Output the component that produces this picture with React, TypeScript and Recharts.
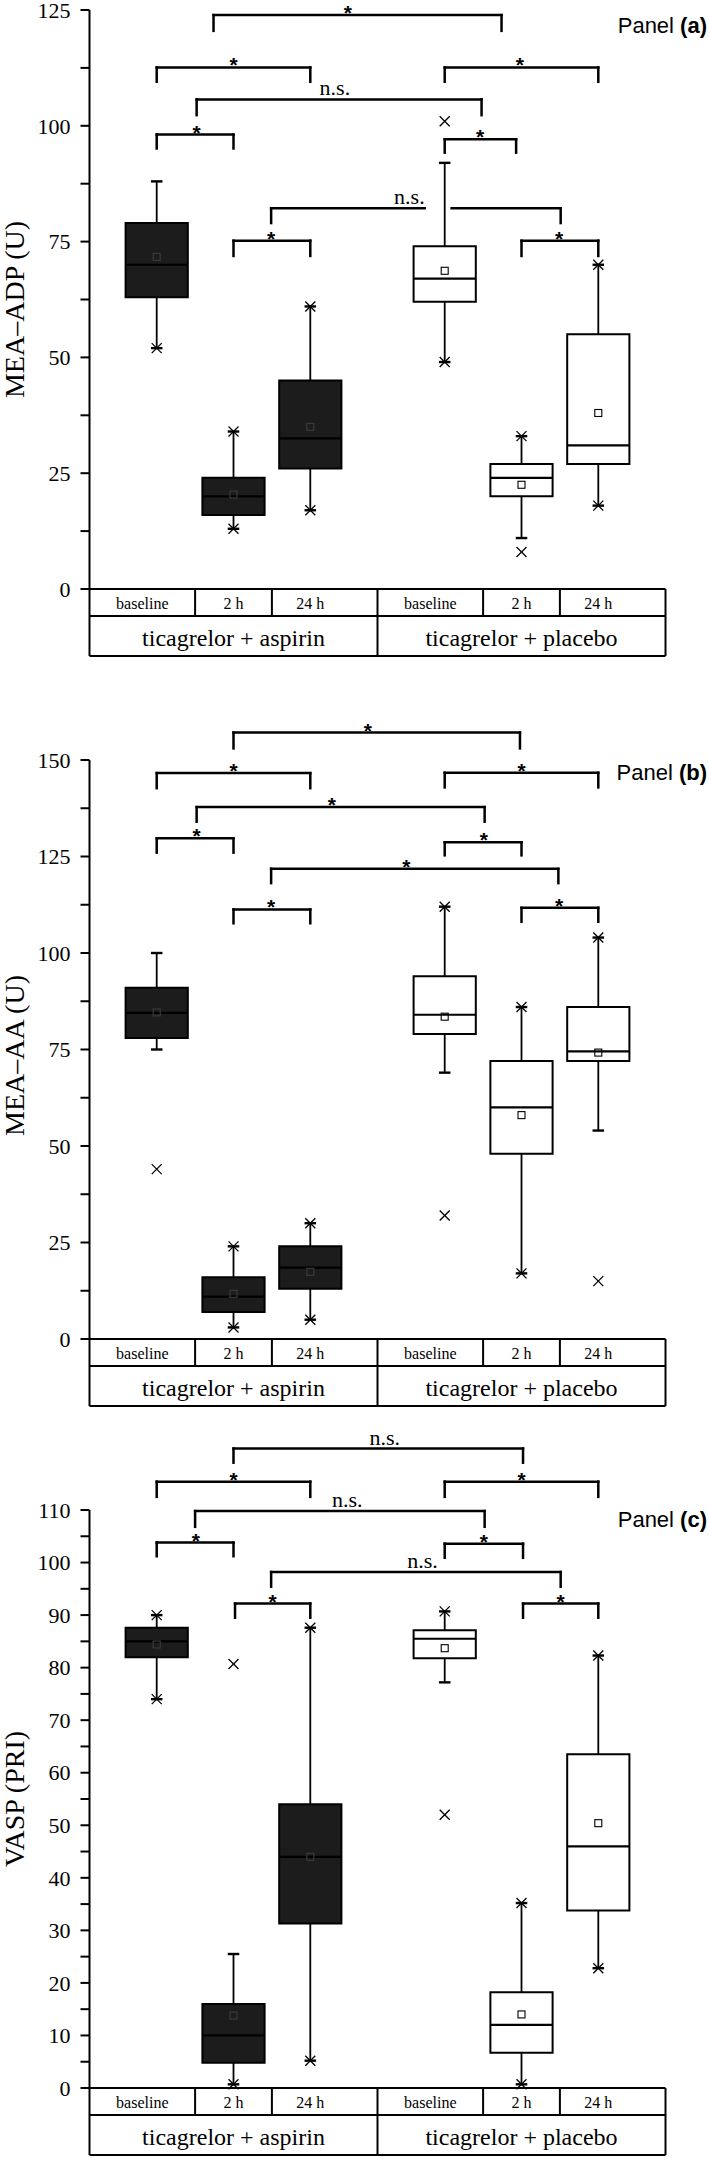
import React from 'react';
import {
  ComposedChart,
  XAxis,
  YAxis,
  Scatter,
  ReferenceArea,
  ReferenceLine,
  ReferenceDot,
  Label,
} from 'recharts';

const SERIF = '"Liberation Serif", "Times New Roman", serif';
const SANS = '"Liberation Sans", Arial, sans-serif';

// ---------- categories ----------
const TIME_LABELS = ['baseline', '2 h', '24 h', 'baseline', '2 h', '24 h'];
const GROUP_LABELS = ['ticagrelor + aspirin', 'ticagrelor + placebo'];

// order: aspirin baseline, 2 h, 24 h, placebo baseline, 2 h, 24 h
// ---------- Panel (a): MEA-ADP (U) ----------
const ADP_Q1 = [63, 16, 26, 62, 20, 27];
const ADP_MEDIAN = [70, 20, 32.5, 67, 24, 31];
const ADP_Q3 = [79, 24, 45, 74, 27, 55];
const ADP_MEAN = [71.7, 20.4, 35, 68.7, 22.5, 38];
const ADP_LOW = [52, 13, 17, 49, 11, 18];
const ADP_HIGH = [88, 34, 61, 92, 33, 70];
const ADP_CROSSES = [[52], [13, 34], [17, 61], [49, 101], [33, 8], [18, 70]];

// ---------- Panel (b): MEA-AA (U) ----------
const AA_Q1 = [78, 7, 13, 79, 48, 72];
const AA_MEDIAN = [84.5, 11, 18.5, 84, 60, 74.5];
const AA_Q3 = [91, 16, 24, 94, 72, 86];
const AA_MEAN = [84.6, 11.7, 17.4, 83.5, 58, 74.2];
const AA_LOW = [75, 3, 5, 69, 17, 54];
const AA_HIGH = [100, 24, 30, 112, 86, 104];
const AA_CROSSES = [[44], [3, 24], [5, 30], [112, 32], [17, 86], [104, 15]];

// ---------- Panel (c): VASP (PRI) ----------
const VASP_Q1 = [82, 4.8, 31.3, 81.8, 6.7, 33.8];
const VASP_MEDIAN = [85, 10, 44, 85.5, 12, 46];
const VASP_Q3 = [87.6, 16, 54, 87.1, 18.2, 63.5];
const VASP_MEAN = [84.4, 13.8, 44, 83.7, 14, 50.4];
const VASP_LOW = [74, 0.7, 5.2, 77.2, 0.7, 22.8];
const VASP_HIGH = [90, 25.5, 87.6, 90.7, 35.2, 82.3];
const VASP_CROSSES = [[74, 90], [0.7, 80.7], [5.2, 87.6], [90.7, 52], [0.7, 35.2], [22.8, 82.3]];

// ---------- significance brackets: [from, to, top, legEnd, label, labelAt, gapFrom?, gapTo?] ----------
type Bracket = [number, number, number, number, string, number, number?, number?];
const ADP_BRACKETS: Bracket[] = [
  [1.74, 5.49, 123.9, 120.5, '*', 3.49],
  [1, 3, 112.6, 109.5, '*', 2],
  [4.75, 6.75, 112.6, 109.5, '*', 5.73],
  [1.52, 5.23, 105.7, 102.3, 'n.s.', 3.32],
  [1, 2, 98.1, 95.1, '*', 1.52],
  [4.75, 5.68, 97.1, 94.2, '*', 5.21],
  [2.49, 6.26, 82.2, 79, 'n.s.', 4.29, 4.49, 4.84],
  [2, 3, 75.2, 71.9, '*', 2.49],
  [5.75, 6.75, 75.2, 71.9, '*', 6.24],
];
const AA_BRACKETS: Bracket[] = [
  [2, 5.73, 157.1, 153, '*', 3.75],
  [1, 3, 146.6, 142.7, '*', 2],
  [4.75, 6.75, 146.7, 142.9, '*', 5.75],
  [1.52, 5.27, 137.8, 134, '*', 3.28],
  [1, 2, 129.7, 126, '*', 1.52],
  [4.75, 5.75, 128.7, 125.3, '*', 5.26],
  [2.49, 6.23, 121.8, 118.1, '*', 4.25],
  [2, 3, 111.3, 107.7, '*', 2.49],
  [5.75, 6.75, 111.7, 108.1, '*', 6.24],
];
const VASP_BRACKETS: Bracket[] = [
  [2, 5.77, 121.7, 119, 'n.s.', 3.97],
  [1, 3, 115.4, 112.5, '*', 2],
  [4.75, 6.75, 115.4, 112.5, '*', 5.75],
  [1.5, 5.27, 109.8, 106.8, 'n.s.', 3.48],
  [1, 2, 103.8, 101.2, '*', 1.51],
  [4.75, 5.77, 103.6, 100.9, '*', 5.26],
  [2.49, 6.26, 98.2, 95.4, 'n.s.', 4.46],
  [2.02, 3, 92.2, 89.5, '*', 2.51],
  [5.77, 6.75, 92.2, 89.5, '*', 6.26],
];

// ---------- layout constants ----------
const POS = [1, 2, 3, 4.75, 5.75, 6.75];
const X_DOMAIN: [number, number] = [0.125, 7.625];
const CELL_EDGES = [0.125, 1.5, 2.5, 3.875, 5.25, 6.25, 7.625];
const GROUP_EDGES = [0.125, 3.875, 7.625];
const TIME_LABEL_POS = [0.8125, 2, 3, 4.5625, 5.75, 6.75];
const GROUP_LABEL_POS = [2, 5.75];
const BOX_HALF = 0.405;
const CAP_HALF = 0.075;
const BOX_FILLS = ['#1c1c1c', '#1c1c1c', '#1c1c1c', '#ffffff', '#ffffff', '#ffffff'];
const ROW1_H = 27;
const ROW2_H = 40;
const PLOT_W = 576;

type Stats = {
  q1: number[];
  med: number[];
  q3: number[];
  mean: number[];
  low: number[];
  high: number[];
  crosses: number[][];
};

const tableTick = (props: any) => {
  const { x, y, payload, width } = props;
  const v = payload.value;
  const els: any[] = [];
  if (v === CELL_EDGES[0]) {
    const w = typeof width === 'number' && width > 100 ? width : PLOT_W;
    els.push(
      <line key="h1" x1={x} y1={y + ROW1_H} x2={x + w} y2={y + ROW1_H} stroke="#000" strokeWidth={2} />,
      <line key="h2" x1={x} y1={y + ROW1_H + ROW2_H} x2={x + w} y2={y + ROW1_H + ROW2_H} stroke="#000" strokeWidth={2} />,
    );
  }
  if (CELL_EDGES.includes(v)) {
    const h = GROUP_EDGES.includes(v) ? ROW1_H + ROW2_H : ROW1_H;
    els.push(<line key="v" x1={x} y1={y} x2={x} y2={y + h} stroke="#000" strokeWidth={2} />);
  }
  const ti = TIME_LABEL_POS.indexOf(v);
  if (ti >= 0) {
    els.push(
      <text key="t" x={x} y={y + 20} textAnchor="middle" fontFamily={SERIF} fontSize={16} fill="#000">
        {TIME_LABELS[ti]}
      </text>,
    );
  }
  const gi = GROUP_LABEL_POS.indexOf(v);
  if (gi >= 0) {
    els.push(
      <text key="g" x={x} y={y + ROW1_H + 30} textAnchor="middle" fontFamily={SERIF} fontSize={24} fill="#000">
        {GROUP_LABELS[gi]}
      </text>,
    );
  }
  return <g>{els}</g>;
};

const makeYTick = (labelStep: number) => (props: any) => {
  const { x, y, payload } = props;
  const v = payload.value;
  const r = v / labelStep;
  if (Math.abs(r - Math.round(r)) > 1e-6) return <g />;
  return (
    <text x={x} y={y} dy="0.35em" textAnchor="end" fontFamily={SERIF} fontSize={22} fill="#000">
      {v}
    </text>
  );
};

const crossShape = (p: any) => (
  <g>
    <line x1={p.cx - 5} y1={p.cy - 5} x2={p.cx + 5} y2={p.cy + 5} stroke="#000" strokeWidth={1.3} />
    <line x1={p.cx - 5} y1={p.cy + 5} x2={p.cx + 5} y2={p.cy - 5} stroke="#000" strokeWidth={1.3} />
  </g>
);

const meanShape = (p: any) => (
  <rect
    x={p.cx - 3.5}
    y={p.cy - 3.5}
    width={7}
    height={7}
    fill="none"
    stroke={p.payload && p.payload.dark ? '#3c3c3c' : '#000'}
    strokeWidth={1.1}
  />
);

const starShape = (p: any) => (
  <text x={p.cx} y={p.cy + 5} textAnchor="middle" fontFamily={SANS} fontWeight="bold" fontSize={21} fill="#000">
    *
  </text>
);
const nsShape = (p: any) => (
  <text x={p.cx} y={p.cy - 4} textAnchor="middle" fontFamily={SERIF} fontSize={22} fill="#000">
    n.s.
  </text>
);

function boxAreas(s: Stats, k: string) {
  return POS.map((x, i) => (
    <ReferenceArea
      key={`${k}-box-${i}`}
      x1={x - BOX_HALF}
      x2={x + BOX_HALF}
      y1={s.q1[i]}
      y2={s.q3[i]}
      fill={BOX_FILLS[i]}
      fillOpacity={1}
      stroke="#000"
      strokeWidth={2}
      ifOverflow="visible"
    />
  ));
}

function boxLines(s: Stats, k: string) {
  const out: any[] = [];
  POS.forEach((x, i) => {
    const common = { stroke: '#000', ifOverflow: 'visible' as const };
    out.push(
      <ReferenceLine key={`${k}-med-${i}`} segment={[{ x: x - BOX_HALF, y: s.med[i] }, { x: x + BOX_HALF, y: s.med[i] }]} strokeWidth={2.2} {...common} />,
      <ReferenceLine key={`${k}-wh-${i}`} segment={[{ x, y: s.q3[i] }, { x, y: s.high[i] }]} strokeWidth={1.8} {...common} />,
      <ReferenceLine key={`${k}-wl-${i}`} segment={[{ x, y: s.low[i] }, { x, y: s.q1[i] }]} strokeWidth={1.8} {...common} />,
      <ReferenceLine key={`${k}-ch-${i}`} segment={[{ x: x - CAP_HALF, y: s.high[i] }, { x: x + CAP_HALF, y: s.high[i] }]} strokeWidth={2.4} {...common} />,
      <ReferenceLine key={`${k}-cl-${i}`} segment={[{ x: x - CAP_HALF, y: s.low[i] }, { x: x + CAP_HALF, y: s.low[i] }]} strokeWidth={2.4} {...common} />,
    );
  });
  return out;
}

function boxCrosses(s: Stats, k: string) {
  const out: any[] = [];
  POS.forEach((x, i) => {
    s.crosses[i].forEach((v, j) => {
      out.push(<ReferenceDot key={`${k}-x-${i}-${j}`} x={x} y={v} r={1} ifOverflow="visible" shape={crossShape} />);
    });
  });
  return out;
}

function bracketEls(list: Bracket[], k: string) {
  const out: any[] = [];
  list.forEach((b, i) => {
    const [x1, x2, top, leg, label, lx, g1, g2] = b;
    const common = { stroke: '#000', strokeWidth: 2.5, ifOverflow: 'visible' as const, strokeLinecap: 'square' as const };
    out.push(
      <ReferenceLine key={`${k}-bl-${i}`} segment={[{ x: x1, y: leg }, { x: x1, y: top }]} {...common} />,
      <ReferenceLine key={`${k}-br-${i}`} segment={[{ x: x2, y: leg }, { x: x2, y: top }]} {...common} />,
    );
    if (g1 !== undefined && g2 !== undefined) {
      out.push(
        <ReferenceLine key={`${k}-bh1-${i}`} segment={[{ x: x1, y: top }, { x: g1, y: top }]} {...common} />,
        <ReferenceLine key={`${k}-bh2-${i}`} segment={[{ x: g2, y: top }, { x: x2, y: top }]} {...common} />,
      );
    } else {
      out.push(<ReferenceLine key={`${k}-bh-${i}`} segment={[{ x: x1, y: top }, { x: x2, y: top }]} {...common} />);
    }
    out.push(
      <ReferenceDot key={`${k}-bt-${i}`} x={lx} y={top} r={1} ifOverflow="visible" shape={label === '*' ? starShape : nsShape} />,
    );
  });
  return out;
}

type PanelProps = {
  id: string;
  top: number;
  marginTop: number;
  plotH: number;
  yMax: number;
  yStep: number;
  yLabelStep: number;
  yTitle: string;
  titleShift: number;
  tag: string;
  tagY: number;
  stats: Stats;
  brackets: Bracket[];
};

function Panel(p: PanelProps) {
  const axisH = ROW1_H + ROW2_H + 2;
  const height = p.marginTop + p.plotH + axisH + 2;
  const yTicks: number[] = [];
  for (let v = 0; v <= p.yMax + 1e-9; v += p.yStep) yTicks.push(Math.round(v * 100) / 100);
  const meanData = POS.map((x, i) => ({ x, y: p.stats.mean[i], dark: i < 3 }));
  const xTicks = Array.from(new Set([...CELL_EDGES, ...TIME_LABEL_POS])).sort((a, b) => a - b);
  const axisLine = { stroke: '#000', strokeWidth: 2 };
  return (
    <div style={{ position: 'absolute', left: 0, top: p.top, width: 709, height }}>
      <ComposedChart width={709} height={height} margin={{ top: p.marginTop, right: 43.5, bottom: 2, left: 0 }}>
        <XAxis
          type="number"
          dataKey="x"
          domain={X_DOMAIN}
          allowDataOverflow
          ticks={xTicks}
          interval={0}
          height={axisH}
          tickSize={0}
          tickMargin={0}
          tickLine={false}
          axisLine={axisLine}
          tick={tableTick}
        />
        <YAxis
          type="number"
          dataKey="y"
          domain={[0, p.yMax]}
          allowDataOverflow
          ticks={yTicks}
          interval={0}
          width={89.5}
          tickSize={9}
          tickMargin={10}
          axisLine={axisLine}
          tickLine={{ stroke: '#000', strokeWidth: 2 }}
          tick={makeYTick(p.yLabelStep)}
        >
          <Label
            content={(lp: any) => {
              const vb = lp.viewBox || { x: 0, y: p.marginTop, width: 89.5, height: p.plotH };
              const cx = 23.5;
              const cy = vb.y + vb.height / 2 + p.titleShift;
              return (
                <text
                  x={cx}
                  y={cy}
                  transform={`rotate(-90, ${cx}, ${cy})`}
                  textAnchor="middle"
                  fontFamily={SERIF}
                  fontSize={28}
                  fill="#000"
                >
                  {p.yTitle}
                </text>
              );
            }}
          />
        </YAxis>
        {boxAreas(p.stats, p.id)}
        {boxLines(p.stats, p.id)}
        {boxCrosses(p.stats, p.id)}
        {bracketEls(p.brackets, p.id)}
        <Scatter data={meanData} isAnimationActive={false} shape={meanShape} />
      </ComposedChart>
      <svg
        width={709}
        height={height}
        style={{ position: 'absolute', left: 0, top: 0, pointerEvents: 'none' }}
      >
        <text x={707} y={p.tagY} textAnchor="end" fontFamily={SANS} fontSize={22} fill="#000">
          {'Panel '}
          <tspan fontWeight="bold">{p.tag}</tspan>
        </text>
      </svg>
    </div>
  );
}

const ADP_STATS: Stats = { q1: ADP_Q1, med: ADP_MEDIAN, q3: ADP_Q3, mean: ADP_MEAN, low: ADP_LOW, high: ADP_HIGH, crosses: ADP_CROSSES };
const AA_STATS: Stats = { q1: AA_Q1, med: AA_MEDIAN, q3: AA_Q3, mean: AA_MEAN, low: AA_LOW, high: AA_HIGH, crosses: AA_CROSSES };
const VASP_STATS: Stats = { q1: VASP_Q1, med: VASP_MEDIAN, q3: VASP_Q3, mean: VASP_MEAN, low: VASP_LOW, high: VASP_HIGH, crosses: VASP_CROSSES };

export default function App() {
  return (
    <div style={{ position: 'absolute', left: 0, top: 0, width: 709, height: 2158, background: '#fff', overflow: 'hidden' }}>
      <Panel id="a" top={0} marginTop={10} plotH={579} yMax={125} yStep={12.5} yLabelStep={25} yTitle="MEA–ADP (U)" titleShift={10} tag="(a)" tagY={33} stats={ADP_STATS} brackets={ADP_BRACKETS} />
      <Panel id="b" top={700} marginTop={60} plotH={579} yMax={150} yStep={12.5} yLabelStep={25} yTitle="MEA–AA (U)" titleShift={6} tag="(b)" tagY={80} stats={AA_STATS} brackets={AA_BRACKETS} />
      <Panel id="c" top={1420} marginTop={90} plotH={578} yMax={110} yStep={5} yLabelStep={10} yTitle="VASP (PRI)" titleShift={0} tag="(c)" tagY={107} stats={VASP_STATS} brackets={VASP_BRACKETS} />
    </div>
  );
}
